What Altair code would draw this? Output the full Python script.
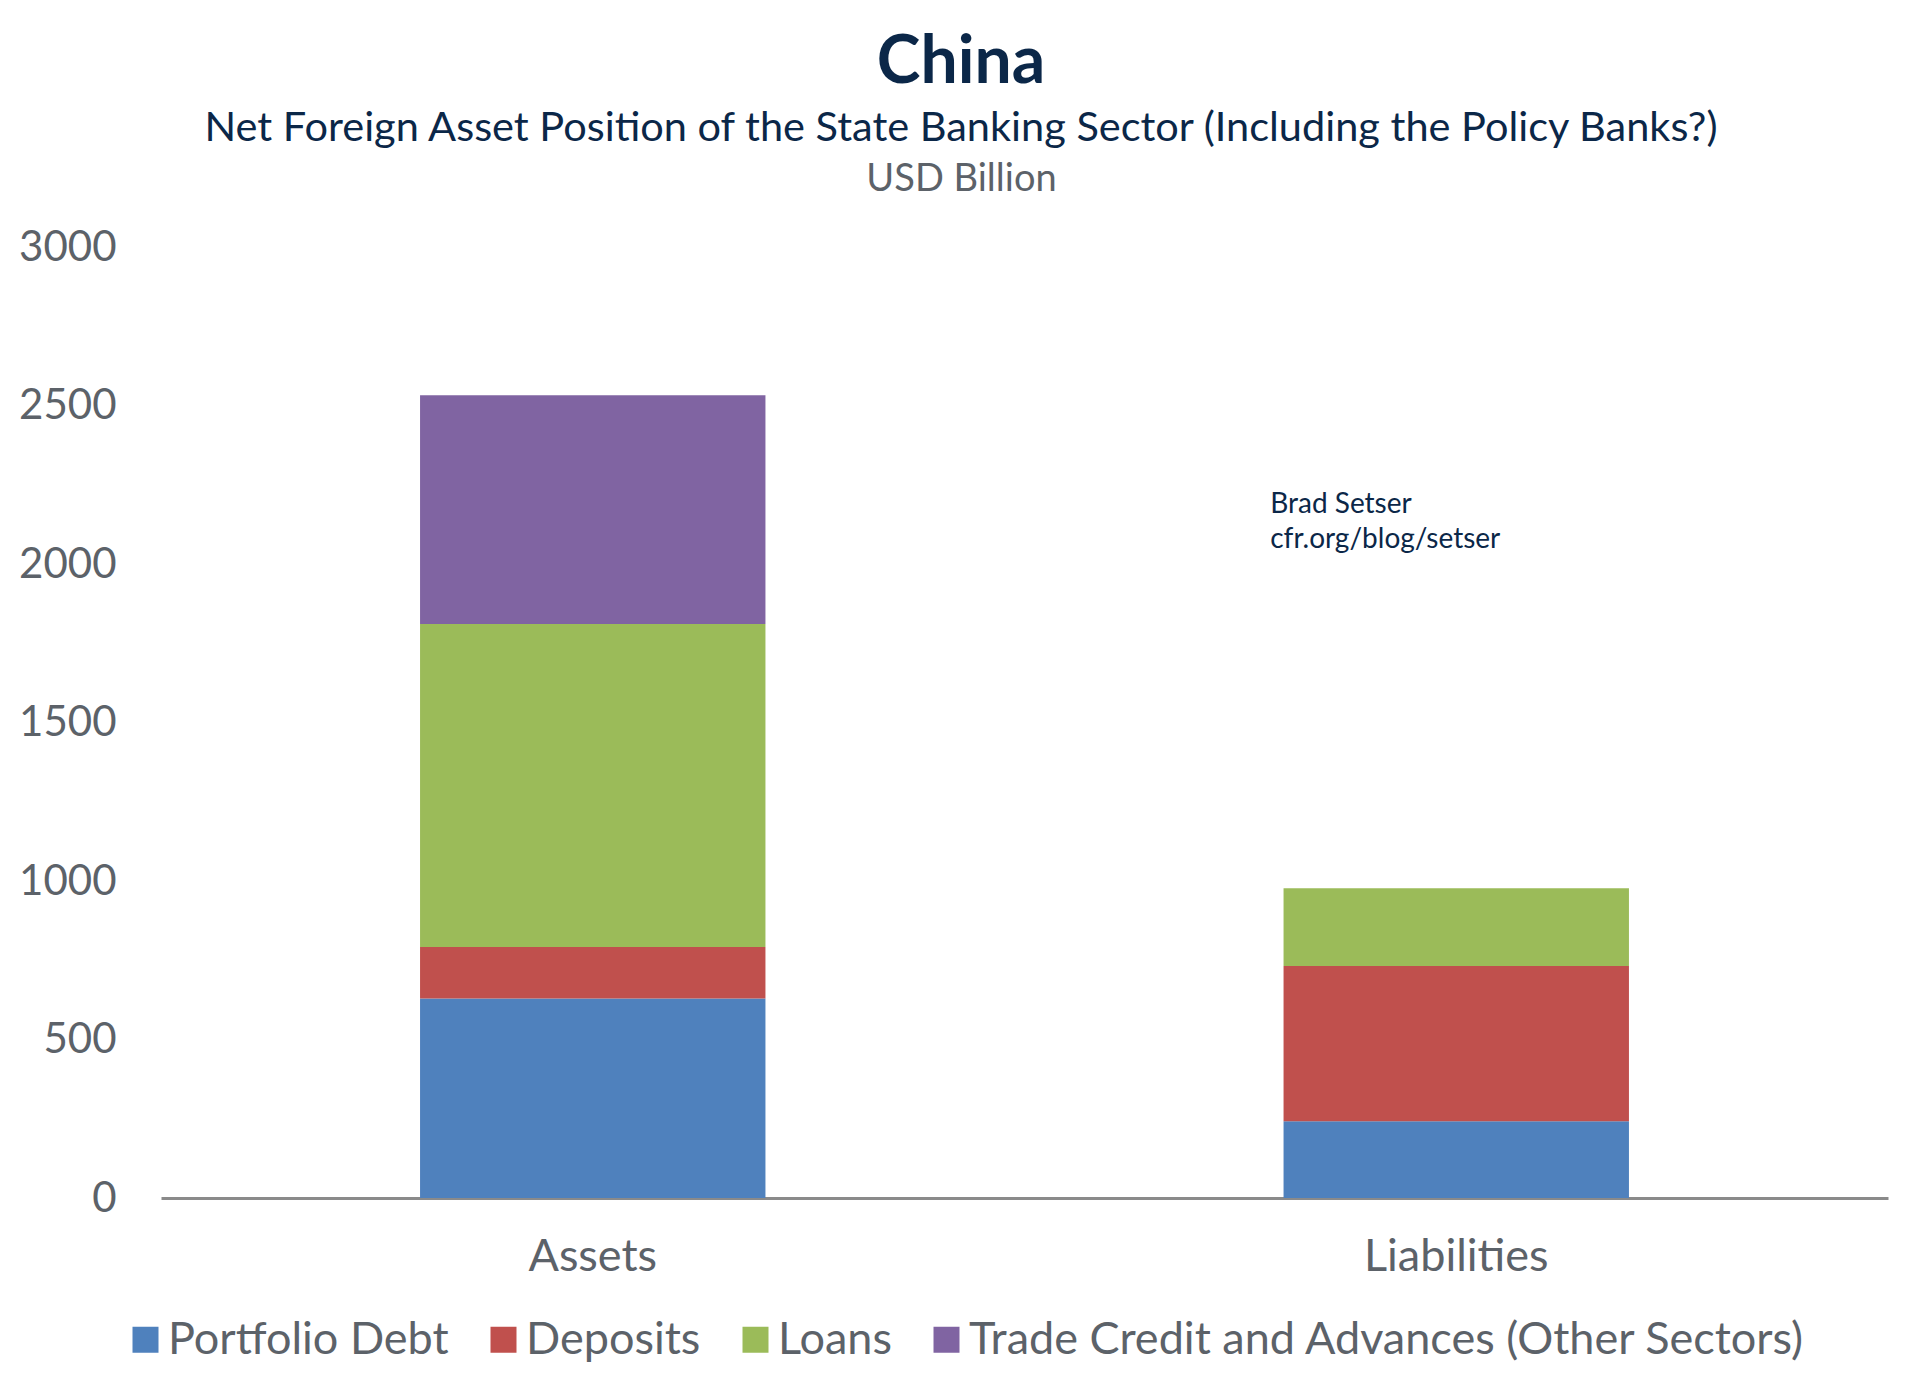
import altair as alt
import pandas as pd

categories = ["Assets", "Liabilities"]
series = ["Portfolio Debt", "Deposits", "Loans", "Trade Credit and Advances (Other Sectors)"]
portfolio_debt = [629, 242]
deposits = [163, 490]
loans = [1019, 245]
trade_credit = [721, 0]
colors = ["#4f81bd", "#c0504d", "#9bbb59", "#8064a2"]
y_ticks = [0, 500, 1000, 1500, 2000, 2500, 3000]

note_lines = ["Brad Setser", "cfr.org/blog/setser"]
note_category = "Liabilities"
note_value = 2161

rows = []
for i, cat in enumerate(categories):
    for k, (s, vals) in enumerate(zip(series, [portfolio_debt, deposits, loans, trade_credit])):
        rows.append({"category": cat, "series": s, "value": vals[i], "order": k})
df = pd.DataFrame(rows)

note_df = pd.DataFrame([{"category": note_category, "value": note_value, "text": note_lines}])

NAVY = "#0b2748"
GREY = "#5c6269"
FONT = "Lato"

x_enc = alt.X(
    "category:N",
    sort=categories,
    scale=alt.Scale(paddingInner=0.6, paddingOuter=0.3),
    axis=alt.Axis(
        title=None, labelAngle=0, ticks=False, labelFontSize=45, labelColor=GREY,
        labelPadding=36, labelLimit=800, domainColor="#8a8a8a", domainWidth=3, labelFont=FONT,
    ),
)

bars = alt.Chart(df).mark_bar().encode(
    x=x_enc,
    y=alt.Y(
        "value:Q",
        stack="zero",
        scale=alt.Scale(domain=[0, 3000], nice=False),
        axis=alt.Axis(
            values=y_ticks, format="d", grid=False, domain=False, ticks=False, labelFontSize=42,
            labelColor=GREY, labelPadding=45, labelFont=FONT,
            title="USD Billion", titleAngle=0, titleX=800, titleY=-57,
            titleAlign="center", titleBaseline="alphabetic", titleFontSize=38,
            titleFontWeight="normal", titleColor=GREY, titleFont=FONT,
        ),
    ),
    color=alt.Color(
        "series:N",
        sort=series,
        scale=alt.Scale(domain=series, range=colors),
        legend=alt.Legend(
            title=None, orient="none", legendX=-38, legendY=1070, direction="horizontal",
            columns=4, symbolType="square", symbolSize=676, symbolStrokeWidth=0,
            labelFontSize=45, labelColor=GREY, labelOffset=0, columnPadding=32,
            labelLimit=2000, labelFont=FONT,
        ),
    ),
    order=alt.Order("order:Q", sort="ascending"),
)

note = alt.Chart(note_df).mark_text(
    align="left", baseline="alphabetic", dx=-186, fontSize=28, lineHeight=35,
    color=NAVY, font=FONT,
).encode(
    x=alt.X("category:N", sort=categories),
    y=alt.Y("value:Q"),
    text="text",
)

chart = alt.layer(bars, note).properties(
    width=1727,
    height=951,
    background="white",
    autosize=alt.AutoSizeParams(type="none"),
    padding={"left": 153, "top": 239, "right": 24, "bottom": 187},
    title=alt.TitleParams(
        "China",
        subtitle="Net Foreign Asset Position of the State Banking Sector (Including the Policy Banks?)",
        fontSize=66, fontWeight="bold", color=NAVY, font=FONT,
        subtitleFontSize=41.5, subtitleColor=NAVY, subtitleFont=FONT,
        anchor="middle", frame="group", dx=-63.5, offset=10, subtitlePadding=11,
    ),
).configure_view(stroke=None, strokeWidth=0)

chart.save("out.html", embed_options={"renderer": "svg", "actions": False})
